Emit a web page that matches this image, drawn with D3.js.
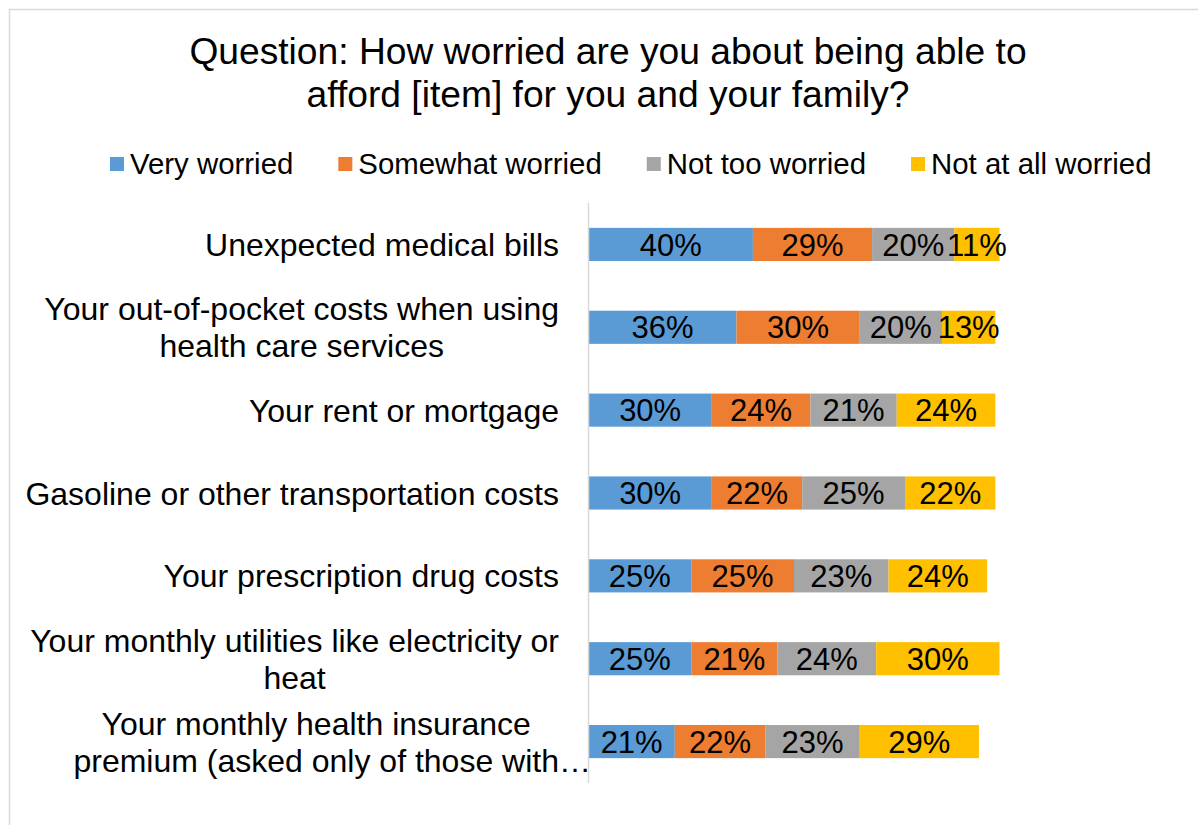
<!DOCTYPE html>
<html>
<head>
<meta charset="utf-8">
<script src="https://cdn.jsdelivr.net/npm/d3@7"></script>
<style>
  body { margin: 0; background: #fff; }
  #panel { width: 1198px; height: 825px; }
</style>
</head>
<body>
<div id="panel"></div>
<script>
const titleLines = ['Question: How worried are you about being able to', 'afford [item] for you and your family?'];

const categories = [
  'Unexpected medical bills',
  'Your out-of-pocket costs when using\nhealth care services',
  'Your rent or mortgage',
  'Gasoline or other transportation costs',
  'Your prescription drug costs',
  'Your monthly utilities like electricity or\nheat',
  'Your monthly health insurance\npremium (asked only of those with\u2026'
];

const seriesNames = ['Very worried', 'Somewhat worried', 'Not too worried', 'Not at all worried'];
const seriesColors = ['#5B9BD5', '#ED7D31', '#A5A5A5', '#FFC000'];

const veryWorried     = [40, 36, 30, 30, 25, 25, 21];
const somewhatWorried = [29, 30, 24, 22, 25, 21, 22];
const notTooWorried   = [20, 20, 21, 25, 23, 24, 23];
const notAtAllWorried = [11, 13, 24, 22, 24, 30, 29];

const W = 1198, H = 825;
const font = '"Liberation Sans", Arial, sans-serif';

const svg = d3.select('#panel')
  .append('svg')
  .attr('width', W)
  .attr('height', H)
  .attr('font-family', font);

// chart border (runs off the right / bottom of the picture)
svg.append('rect')
  .attr('x', 9.5).attr('y', 9.5)
  .attr('width', 1200).attr('height', 830)
  .attr('fill', '#fff')
  .attr('stroke', '#D9D9D9')
  .attr('stroke-width', 1.5);

// title
svg.append('text')
  .attr('text-anchor', 'middle')
  .attr('font-size', 37.2)
  .attr('fill', '#000')
  .selectAll('tspan')
  .data(titleLines)
  .join('tspan')
  .attr('x', 608)
  .attr('y', (d, i) => 64 + i * 43)
  .text(d => d);

// legend
const legend = svg.append('g').attr('font-size', 29.4);
let lx = 110;
seriesNames.forEach((name, i) => {
  legend.append('rect')
    .attr('x', lx).attr('y', 157)
    .attr('width', 14).attr('height', 14)
    .attr('fill', seriesColors[i]);
  const t = legend.append('text')
    .attr('x', lx + 20)
    .attr('y', 174)
    .attr('fill', '#000')
    .text(name);
  lx += 20 + t.node().getComputedTextLength() + 45;
});

// scales
const x = d3.scaleLinear().domain([0, 100]).range([588.5, 999.5]);
const y = d3.scaleBand().domain(d3.range(categories.length)).range([203, 783]).paddingInner(0.6).paddingOuter(0.3);

const table = categories.map((c, i) => ({
  cat: c,
  vals: [veryWorried[i], somewhatWorried[i], notTooWorried[i], notAtAllWorried[i]]
}));

const stack = d3.stack().keys([0, 1, 2, 3]).value((d, k) => d.vals[k]);
const stacked = stack(table);

const bars = svg.append('g');
stacked.forEach((layer, k) => {
  const g = bars.append('g').attr('fill', seriesColors[k]);
  g.selectAll('rect')
    .data(layer)
    .join('rect')
    .attr('x', d => x(d[0]))
    .attr('y', (d, i) => y(i))
    .attr('width', d => x(d[1]) - x(d[0]))
    .attr('height', y.bandwidth());
});

// data labels
const labels = svg.append('g').attr('font-size', 31).attr('text-anchor', 'middle').attr('fill', '#000');
stacked.forEach((layer, k) => {
  labels.append('g')
    .selectAll('text')
    .data(layer)
    .join('text')
    .attr('x', d => (x(d[0]) + x(d[1])) / 2)
    .attr('y', (d, i) => y(i) + y.bandwidth() / 2)
    .attr('dy', '0.36em')
    .text(d => (d[1] - d[0]) + '%');
});

// axis line
svg.append('line')
  .attr('x1', 588.5).attr('x2', 588.5)
  .attr('y1', y.range()[0]).attr('y2', y.range()[1])
  .attr('stroke', '#D9D9D9')
  .attr('stroke-width', 1.5);

// category labels: block right aligned, lines centred within it
const catG = svg.append('g').attr('font-size', 32).attr('fill', '#000');
const measure = catG.append('text').attr('visibility', 'hidden');
const textWidth = s => measure.text(s).node().getComputedTextLength();
const labelRight = 559, lineH = 37;

categories.forEach((c, i) => {
  const lines = c.split('\n');
  const widths = lines.map(l => textWidth(l.replace(/\u2026$/, '')));
  const center = labelRight - d3.max(widths) / 2;
  const cy = y(i) + y.bandwidth() / 2;
  lines.forEach((l, j) => {
    catG.append('text')
      .attr('x', center - widths[j] / 2)
      .attr('y', cy + (j - (lines.length - 1) / 2) * lineH)
      .attr('dy', '0.36em')
      .text(l);
  });
});
measure.remove();
</script>
</body>
</html>
